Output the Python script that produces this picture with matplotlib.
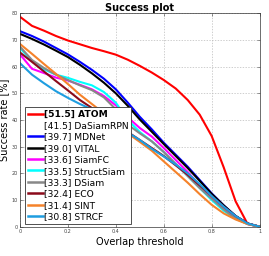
import matplotlib
matplotlib.use('Agg')
import matplotlib.pyplot as plt
from matplotlib.lines import Line2D
import numpy as np

# overlap thresholds (0 .. 1 in steps of 0.05)
thresholds = [0.0, 0.05, 0.1, 0.15, 0.2, 0.25, 0.3, 0.35, 0.4, 0.45, 0.5,
              0.55, 0.6, 0.65, 0.7, 0.75, 0.8, 0.85, 0.9, 0.95, 1.0]

trackers = ['ATOM', 'DaSiamRPN', 'MDNet', 'VITAL', 'SiamFC', 'StructSiam',
            'DSiam', 'ECO', 'SINT', 'STRCF']
auc = [51.5, 41.5, 39.7, 39.0, 33.6, 33.5, 33.3, 32.4, 31.4, 30.8]

atom = [78.7, 75.3, 73.5, 71.5, 69.8, 68.4, 67.0, 65.8, 64.5, 62.6, 60.3,
        57.8, 55.0, 51.8, 47.5, 42.0, 34.0, 22.3, 9.5, 1.0, 0.0]
dasiamrpn = None  # not visible in the plot
mdnet = [73.3, 71.5, 69.4, 67.0, 64.6, 61.8, 58.8, 55.5, 51.5, 46.5, 41.2,
         36.5, 31.5, 27.0, 22.5, 17.5, 12.5, 8.0, 4.0, 1.2, 0.0]
vital = [72.3, 70.4, 68.3, 66.0, 63.6, 60.7, 57.5, 54.0, 50.0, 45.3, 40.2,
         35.6, 31.0, 26.5, 22.0, 17.2, 12.3, 8.0, 4.0, 1.2, 0.0]
siamfc = [64.6, 59.2, 57.6, 55.9, 54.8, 53.2, 51.5, 49.0, 45.5, 41.0, 37.0,
          33.8, 29.5, 25.0, 20.5, 15.5, 11.0, 7.0, 3.5, 1.0, 0.0]
structsiam = [67.0, 62.0, 59.0, 57.0, 55.8, 54.3, 53.0, 50.5, 46.5, 40.0, 35.5,
              32.0, 28.0, 23.5, 19.0, 14.5, 10.0, 6.0, 3.0, 1.0, 0.0]
dsiam = [67.5, 62.5, 59.5, 57.0, 55.0, 53.0, 51.2, 48.5, 44.0, 38.3, 35.0,
         32.0, 28.0, 23.5, 19.0, 14.5, 10.5, 6.5, 3.0, 1.0, 0.0]
eco = [65.3, 61.8, 58.2, 54.6, 51.1, 47.5, 44.5, 41.5, 38.5, 35.5, 32.5,
       29.5, 26.5, 23.0, 19.5, 15.5, 11.5, 7.5, 4.0, 1.2, 0.0]
sint = [68.5, 64.8, 61.0, 57.3, 53.5, 49.5, 46.0, 42.5, 39.0, 35.0, 31.8,
        28.5, 24.5, 20.5, 16.5, 12.2, 8.2, 5.0, 2.7, 1.0, 0.0]
strcf = [61.3, 57.0, 53.8, 50.8, 48.3, 46.0, 44.0, 41.3, 38.3, 35.3, 32.5,
         29.2, 26.3, 23.3, 20.0, 16.0, 11.5, 7.5, 4.0, 1.2, 0.0]

curves = [atom, dasiamrpn, mdnet, vital, siamfc, structsiam, dsiam, eco, sint, strcf]
colors = ['#ff0000', '#ffffff', '#0000ff', '#000000', '#ff00ff', '#00ffff',
          '#888888', '#8b0a1a', '#f5822a', '#1e9de0']

fig = plt.figure(figsize=(2.69, 2.56), dpi=100)
ax = fig.add_axes([0.0743, 0.1145, 0.8907, 0.8335])

handles = []
for name, a, y, c in zip(trackers, auc, curves, colors):
    lab = '[%.1f] %s' % (a, name)
    if y is not None:
        ax.plot(thresholds, y, color=c, lw=1.5)
    handles.append(Line2D([], [], color=c, lw=1.8, label=lab))

ax.set_xlim(0, 1)
ax.set_ylim(0, 80)
ax.set_xticks(np.arange(0, 1.01, 0.2))
ax.set_xticklabels(['0', '0.2', '0.4', '0.6', '0.8', '1'])
ax.set_yticks(np.arange(0, 81, 10))
ax.tick_params(direction='in', labelsize=3.5, length=2, width=0.4, pad=1.5,
               top=True, right=True, colors='#444444')
ax.grid(True, color='#bbbbbb', linestyle=(0, (2, 2)), lw=0.5)
for s in ax.spines.values():
    s.set_linewidth(0.5)
    s.set_color('#333333')

ax.set_title('Success plot', fontsize=7, fontweight='bold', pad=2)
ax.set_xlabel('Overlap threshold', fontsize=7, labelpad=2)
ax.set_ylabel('Success rate [%]', fontsize=7, labelpad=2)

leg = ax.legend(handles=handles, loc='lower left', bbox_to_anchor=(0.021, 0.013),
                borderaxespad=0, fontsize=6.6, handlelength=1.65, handletextpad=0.1,
                labelspacing=0.26, borderpad=0.3, fancybox=False, framealpha=1,
                edgecolor='#333333')
leg.get_frame().set_linewidth(0.6)
leg.get_texts()[0].set_fontweight('bold')

fig.savefig('out.png', dpi=100)
